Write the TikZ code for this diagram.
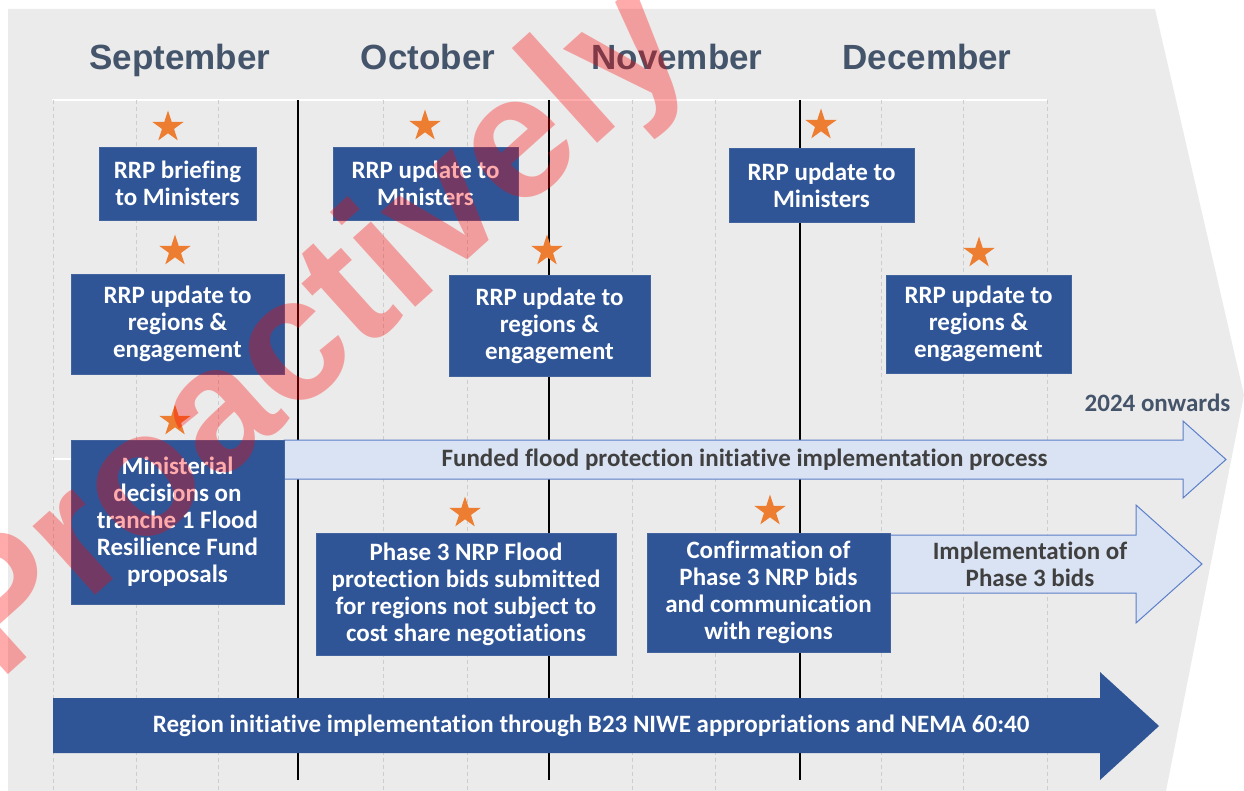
\documentclass[tikz,border=0pt]{standalone}
\usepackage{fontspec}
\setmainfont{Carlito}[RawFeature={-liga}]
\newfontfamily\monthfont{Liberation Sans}
\newfontfamily\markfont{Liberation Sans}
\usetikzlibrary{shapes.geometric}
\definecolor{boxblue}{HTML}{2F5597}
\definecolor{boxedge}{HTML}{41649F}
\definecolor{arrowfill}{HTML}{DAE3F3}
\definecolor{arrowline}{HTML}{5B7FC8}
\definecolor{slate}{HTML}{44546A}
\definecolor{starorange}{HTML}{ED7D31}
\definecolor{panel}{HTML}{EBEBEB}
\definecolor{gridgray}{HTML}{CDCDCD}
\definecolor{darktext}{HTML}{404040}
\tikzset{
    evbox/.style={fill=boxblue, draw=boxedge, line width=0.8, text=white, align=center,
        inner sep=0, font=\fontsize{25}{27}\selectfont\bfseries},
    milestar/.style={star, star points=5, star point ratio=2.618, minimum size=33,
        inner sep=0, fill=starorange},
    month/.style={anchor=base, text=slate, font=\monthfont\fontsize{35}{40}\selectfont\bfseries},
    arrowtext/.style={text=darktext, align=center, font=\fontsize{25}{27}\selectfont\bfseries}
}

\begin{document}
\begin{tikzpicture}[x=1pt,y=-1pt]
        \useasboundingbox (0,0) rectangle (1244,791);
        %background panel
        \fill[panel] (8,9) -- (1155,9) -- (1244,395) -- (1166,791) -- (8,791) -- cycle;
        \draw[white, line width=2] (52,100) -- (1047,100);
        \draw[white, line width=2] (52,459) -- (284,459);
        \foreach \x in {53,136,218,383,467,632,715,881,963,1047}
            \draw[gridgray, dash pattern=on 4pt off 3pt, line width=0.8] (\x,100) -- (\x,791);
        \foreach \x in {298,549,800}
            \draw[black, line width=2.5] (\x,100) -- (\x,780);

        %months
        \node[month](sep) at (180,69.5){September};
        \node[month](oct) at (428,69.5){October};
        \node[month](nov) at (677,69.5){November};
        \node[month](dec) at (927,69.5){December};

        %long arrows
        \filldraw[fill=arrowfill, draw=arrowline, line width=1]
         (284,440) -- (1183,440) -- (1183,421) -- (1226,459.5) -- (1183,498) -- (1183,479) -- (284,479) -- cycle;
        \node[arrowtext](funded) at (744.5,459.5){Funded flood protection initiative implementation process};
        \node[anchor=base, text=slate, font=\fontsize{25}{27}\selectfont\bfseries](onwards) at (1157.5,411){2024 onwards};

        \filldraw[fill=arrowfill, draw=arrowline, line width=1]
         (890,535) -- (1136,535) -- (1136,505) -- (1202,564) -- (1136,623) -- (1136,593) -- (890,593) -- cycle;
        \node[arrowtext](implem) at (1030,564.5){Implementation of\\Phase 3 bids};

        \fill[boxblue] (53,698) -- (1100,698) -- (1100,672) -- (1159,726) -- (1100,780) -- (1100,753) -- (53,753) -- cycle;
        \node[text=white, font=\fontsize{25}{27}\selectfont\bfseries](region) at (591,726)
         {Region initiative implementation through B23 NIWE appropriations and NEMA 60:40};

        %event boxes
        \node[evbox, minimum width=157, minimum height=73](brief) at (177.5,183.5){RRP briefing\\to Ministers};
        \node[evbox, minimum width=185, minimum height=73](octmin) at (425.5,183.5){RRP update to\\Ministers};
        \node[evbox, minimum width=185, minimum height=74](decmin) at (821.5,185){RRP update to\\Ministers};
        \node[evbox, minimum width=213, minimum height=100](sepreg) at (177.5,324){RRP update to\\regions \&\\engagement};
        \node[evbox, minimum width=201, minimum height=101](octreg) at (549.5,325.5){RRP update to\\regions \&\\engagement};
        \node[evbox, minimum width=185, minimum height=98](decreg) at (978.5,324){RRP update to\\regions \&\\engagement};
        \node[evbox, minimum width=213, minimum height=164](minist) at (177.5,522)
         {Ministerial\\decisions on\\tranche 1 Flood\\Resilience Fund\\proposals};
        \node[evbox, minimum width=300, minimum height=122](bids) at (466,594)
         {Phase 3 NRP Flood\\protection bids submitted\\for regions not subject to\\cost share negotiations};
        \node[evbox, minimum width=243, minimum height=119](confirm) at (768.5,592.5)
         {Confirmation of\\Phase 3 NRP bids\\and communication\\with regions};

        %stars
        \node[milestar](s1) at (168,127){};
        \node[milestar](s2) at (425,126){};
        \node[milestar](s3) at (821,125){};
        \node[milestar](s4) at (175,251){};
        \node[milestar](s5) at (547,251){};
        \node[milestar](s6) at (979,253){};
        \node[milestar](s7) at (175,421){};
        \node[milestar](s8) at (465,513){};
        \node[milestar](s9) at (770,511){};

        %watermark
        \node[rotate=42, text=red, text opacity=0.33, font=\markfont\fontsize{176}{180}\selectfont\bfseries](mark)
         at (318,334){Proactively};
\end{tikzpicture}
\end{document}
